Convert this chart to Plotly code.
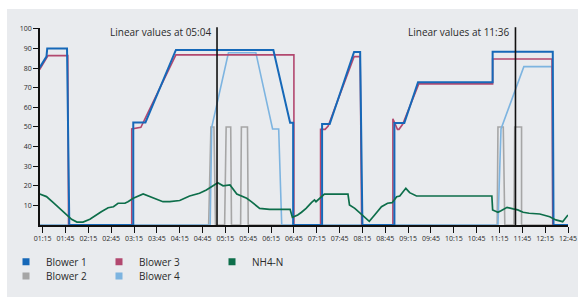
import plotly.graph_objects as go

DAY = "2024-01-01 "

blower1_t = ["01:11", "01:20", "01:21", "01:47", "01:50", "03:14", "03:14", "03:30", "04:10", "06:18",
             "06:40", "06:44", "06:44", "07:22", "07:22", "07:32", "08:04", "08:12", "08:15", "08:57",
             "08:57", "09:10", "09:28", "11:06", "11:06", "12:25", "12:26", "12:45"]
blower1_v = [80.3, 85.9, 90, 90, 0, 0, 52.3, 52.3, 89.3, 89.3,
             52.2, 52.2, 0, 0, 51.5, 51.5, 88.3, 88.3, 0, 0,
             52, 52, 72.8, 72.8, 88.4, 88.4, 0, 0]

blower3_t = ["01:11", "01:22", "01:48", "01:49", "03:12", "03:12", "03:24", "04:10", "06:45", "06:45",
             "07:20", "07:20", "07:26", "07:30", "08:04", "08:12", "08:14", "08:55", "08:55", "09:01",
             "09:03", "09:08", "09:29", "11:06", "11:06", "12:24", "12:25", "12:45"]
blower3_v = [79.3, 86.4, 86.4, 0, 0, 49, 49.8, 86.8, 86.8, 0,
             0, 48.8, 48.8, 50.5, 85.9, 85.9, 0, 0, 54.2, 48.8,
             48.8, 51.5, 72, 72, 84.7, 84.7, 0, 0]

blower4_t = ["01:11", "04:55", "04:57", "05:19", "05:55", "06:17", "06:25", "06:29", "11:13", "11:17",
             "11:47", "12:24", "12:25", "12:45"]
blower4_v = [0, 0, 49.8, 87.9, 87.9, 49, 49, 0, 0, 49,
             80.8, 80.8, 0, 0]

blower2_t = ["01:11", "04:53", "04:56", "05:00", "05:02", "05:14", "05:16", "05:22", "05:23", "05:35",
             "05:36", "05:44", "05:45", "11:12", "11:13", "11:20", "11:22", "11:34", "11:35", "11:44",
             "11:44", "12:45"]
blower2_v = [0, 0, 50, 50, 0, 0, 50, 50, 0, 0,
             50, 50, 0, 0, 50, 50, 0, 0, 50, 50,
             0, 0]

nh4_t = ["01:11", "01:20", "01:29", "01:38", "01:46", "01:53", "02:00", "02:08", "02:17", "02:26",
         "02:32", "02:41", "02:48", "02:54", "03:03", "03:07", "03:14", "03:27", "03:36", "03:45",
         "03:53", "04:02", "04:11", "04:15", "04:28", "04:41", "04:50", "04:59", "05:05", "05:12",
         "05:21", "05:30", "05:43", "05:49", "06:00", "06:13", "06:40", "06:43", "06:50", "06:55",
         "07:01", "07:08", "07:12", "07:14", "07:19", "07:25", "07:56", "07:58", "08:05", "08:16",
         "08:24", "08:31", "08:40", "08:48", "08:54", "09:00", "09:04", "09:12", "09:17", "09:26",
         "11:05", "11:06", "11:13", "11:17", "11:25", "11:33", "11:39", "11:46", "11:54", "12:08",
         "12:21", "12:29", "12:38", "12:45"]
nh4_v = [15.8, 14.5, 11.4, 8.2, 5.1, 2.9, 1.5, 1.5, 2.9, 5.4,
         6.8, 8.8, 9.3, 11.1, 11.1, 11.9, 13.6, 15.8, 14.5, 12.8,
         11.9, 11.9, 12.2, 12.5, 14.8, 16.2, 17.9, 20.4, 21.6, 20,
         20.4, 15.8, 13.6, 11.9, 8.5, 8, 8, 3.9, 5.1, 6.5,
         8.5, 11.4, 12.8, 11.9, 13.6, 15.8, 15.8, 10.2, 8.5, 4.6,
         1.9, 5.1, 9.3, 11.1, 11.4, 14.4, 14.8, 18.7, 16.5, 14.8,
         14.8, 7.7, 6.5, 7.3, 9, 8.2, 7.7, 6.5, 6, 5.6,
         4.2, 2.6, 1.7, 5.1]

tick_labels = ["01:15", "01:45", "02:15", "02:45", "03:15", "03:45", "04:15", "04:45", "05:15",
               "05:45", "06:15", "06:45", "07:15", "07:45", "08:15", "08:45", "09:15", "09:45",
               "10:15", "10:45", "11:15", "11:45", "12:15", "12:45"]
y_ticks = [10, 20, 30, 40, 50, 60, 70, 80, 90, 100]
marker_times = ["05:04", "11:36"]

C_B1 = "#1668b8"
C_B2 = "#a6a6a6"
C_B3 = "#b2486f"
C_B4 = "#7db4e0"
C_NH = "#0d6e4a"
BG = "#e9ebee"
TXT = "#2a2a2a"
FONT = "Open Sans"


def ts(lst):
    return [DAY + t for t in lst]


fig = go.Figure()
fig.add_trace(go.Scatter(x=ts(blower2_t), y=blower2_v, mode="lines", line=dict(color=C_B2, width=1.6),
                         showlegend=False))
fig.add_trace(go.Scatter(x=ts(blower4_t), y=blower4_v, mode="lines", line=dict(color=C_B4, width=1.6),
                         showlegend=False))
fig.add_trace(go.Scatter(x=ts(blower3_t), y=blower3_v, mode="lines", line=dict(color=C_B3, width=1.6),
                         showlegend=False))
fig.add_trace(go.Scatter(x=ts(blower1_t), y=blower1_v, mode="lines", line=dict(color=C_B1, width=2),
                         showlegend=False))
fig.add_trace(go.Scatter(x=ts(nh4_t), y=nh4_v, mode="lines", line=dict(color=C_NH, width=1.7),
                         showlegend=False))

# legend entries (square swatches)
legend_items = [("Blower 1", C_B1, "legend"), ("Blower 3", C_B3, "legend2"), ("NH4-N", C_NH, "legend3"),
                ("Blower 2", C_B2, "legend4"), ("Blower 4", C_B4, "legend5")]
for name, col, lg in legend_items:
    fig.add_trace(go.Scatter(x=[None], y=[None], mode="markers", name=name,
                             marker=dict(symbol="square", size=7, color=col), legend=lg))

leg_pos = {"legend": (6, 261.7), "legend2": (99, 261.7), "legend3": (212, 261.7),
           "legend4": (6, 276), "legend5": (99, 276)}
for lg, (px, py) in leg_pos.items():
    fig.update_layout({lg: dict(x=px / 578, y=1 - py / 297, xref="container", yref="container",
                                xanchor="left", yanchor="middle", bgcolor="rgba(0,0,0,0)",
                                borderwidth=0, font=dict(family=FONT, size=10, color=TXT),
                                itemwidth=30)})

shapes = [dict(type="rect", xref="paper", yref="paper", x0=(7 - 40) / 528.3, x1=1.05,
               y0=-0.5, y1=(225 - 9) / 197, fillcolor=BG, line=dict(width=0), layer="below")]
annotations = []
for mt in marker_times:
    shapes.append(dict(type="line", xref="x", yref="paper", x0=DAY + mt, x1=DAY + mt, y0=0, y1=1.004,
                       line=dict(color="#111111", width=1.6), layer="above"))
    annotations.append(dict(x=DAY + mt, y=98.5, xref="x", yref="y", text="Linear values at " + mt,
                            showarrow=False, xanchor="right", yanchor="middle", xshift=-4,
                            font=dict(family=FONT, size=10, color=TXT)))

tick_vals = [DAY + t for t in tick_labels]

fig.update_layout(
    width=578, height=297,
    margin=dict(l=40, r=9.7, t=28, b=72, autoexpand=False),
    paper_bgcolor="white", plot_bgcolor=BG,
    shapes=shapes, annotations=annotations,
    font=dict(family=FONT, color=TXT),
    xaxis=dict(type="date", range=[DAY + "01:11:30", DAY + "12:45"], tickvals=tick_vals,
               ticktext=tick_labels, tickangle=0, showgrid=False, zeroline=False, showline=True,
               linecolor="#111111", linewidth=1.6, ticks="outside", ticklen=6, tickwidth=1.4,
               tickcolor="#111111", tickfont=dict(family=FONT, size=7, color=TXT), layer="below traces"),
    yaxis=dict(range=[0, 100.5], tickvals=y_ticks, showgrid=False, zeroline=False, showline=True,
               linecolor="#111111", linewidth=1.6, ticks="outside", ticklen=5, tickwidth=1.4,
               tickcolor="#111111", tickfont=dict(family=FONT, size=7, color=TXT), layer="below traces"),
)

fig.write_html("out.html", config={"displayModeBar": False},
               post_script="document.body.style.margin='0';document.body.style.padding='0';")
